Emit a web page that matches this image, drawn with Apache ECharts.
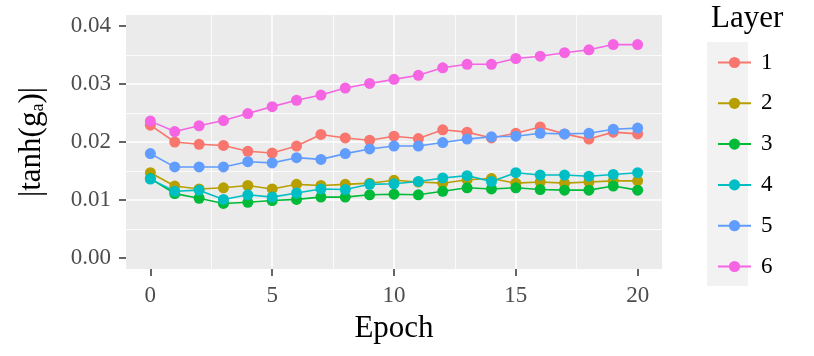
<!DOCTYPE html>
<html lang="en">
<head>
    <meta charset="UTF-8">
    <title>Layer gates</title>
    <style>
        html, body { margin: 0; padding: 0; background: #fff; }
        #main { width: 814px; height: 356px; }
    </style>
</head>
<body>
<div id="main"></div>
<script src="https://cdn.jsdelivr.net/npm/echarts@6/dist/echarts.min.js"></script>
<script>
    var epochs = [0, 1, 2, 3, 4, 5, 6, 7, 8, 9, 10, 11, 12, 13, 14, 15, 16, 17, 18, 19, 20];
    var layerNames = ['1', '2', '3', '4', '5', '6'];
    var layerColors = ['#F8766D', '#B79F00', '#00BA38', '#00BFC4', '#619CFF', '#F564E3'];

    var layer1 = [0.0229, 0.0200, 0.0196, 0.0194, 0.0184, 0.0181, 0.0193, 0.0213, 0.0207, 0.0203, 0.0210, 0.0206, 0.0221, 0.0217, 0.0207, 0.0215, 0.0226, 0.0214, 0.0205, 0.0217, 0.0214];
    var layer2 = [0.0147, 0.0124, 0.0119, 0.0121, 0.0125, 0.0119, 0.0127, 0.0125, 0.0127, 0.0129, 0.0134, 0.0131, 0.0129, 0.0135, 0.0137, 0.0129, 0.0131, 0.0129, 0.0131, 0.0133, 0.0133];
    var layer3 = [0.0137, 0.0111, 0.0103, 0.0094, 0.0096, 0.0099, 0.0101, 0.0105, 0.0105, 0.0109, 0.0110, 0.0109, 0.0115, 0.0121, 0.0119, 0.0121, 0.0118, 0.0117, 0.0117, 0.0124, 0.0117];
    var layer4 = [0.0136, 0.0115, 0.0117, 0.0101, 0.0109, 0.0105, 0.0112, 0.0119, 0.0118, 0.0127, 0.0128, 0.0132, 0.0138, 0.0142, 0.0132, 0.0147, 0.0143, 0.0143, 0.0141, 0.0144, 0.0147];
    var layer5 = [0.0180, 0.0157, 0.0157, 0.0157, 0.0166, 0.0164, 0.0173, 0.0170, 0.0180, 0.0188, 0.0193, 0.0193, 0.0199, 0.0205, 0.0209, 0.0210, 0.0215, 0.0214, 0.0215, 0.0222, 0.0224];
    var layer6 = [0.0236, 0.0218, 0.0228, 0.0237, 0.0249, 0.0261, 0.0272, 0.0281, 0.0293, 0.0301, 0.0308, 0.0315, 0.0328, 0.0334, 0.0334, 0.0344, 0.0348, 0.0354, 0.0359, 0.0368, 0.0368];
    var layers = [layer1, layer2, layer3, layer4, layer5, layer6];

    var xTicks = [0, 5, 10, 15, 20];
    var yTicks = [0, 0.01, 0.02, 0.03, 0.04];

    var serif = '"Liberation Serif", "DejaVu Serif", serif';

    var series = [];
    for (var i = 0; i < layers.length; i++) {
        series.push({
            name: layerNames[i],
            type: 'line',
            z: 2 + i,
            data: epochs.map(function (e, j) { return [e, layers[i][j]]; }),
            symbol: 'circle',
            symbolSize: 11,
            color: layerColors[i],
            lineStyle: { width: 1.6, color: layerColors[i] },
            itemStyle: { color: layerColors[i] },
            emphasis: { disabled: true }
        });
    }

    var myChart = echarts.init(document.getElementById('main'));
    var option = {
        animation: false,
        backgroundColor: '#ffffff',
        title: {
            text: 'Layer',
            left: 706,
            top: -2,
            textStyle: { fontFamily: serif, fontSize: 31, fontWeight: 'normal', color: '#000' }
        },
        graphic: [{
            type: 'rect',
            left: 707,
            top: 42,
            z: -1,
            shape: { width: 41, height: 244 },
            style: { fill: '#F2F2F2' }
        }],
        legend: {
            data: layerNames,
            orient: 'vertical',
            left: 712,
            top: 46,
            itemWidth: 33,
            itemHeight: 14,
            itemGap: 17.8,
            textStyle: { fontFamily: serif, fontSize: 23, color: '#000', padding: [0, 0, 0, 5] }
        },
        grid: {
            left: 126,
            top: 15,
            width: 536,
            height: 254,
            show: true,
            backgroundColor: '#EBEBEB',
            borderWidth: 0
        },
        xAxis: {
            type: 'value',
            min: -1,
            max: 21,
            splitNumber: 5,
            name: 'Epoch',
            nameLocation: 'middle',
            nameGap: 44,
            nameTextStyle: { fontFamily: serif, fontSize: 31, color: '#000' },
            axisLine: { show: false, onZero: false },
            splitLine: { show: true, showMinLine: false, showMaxLine: false, lineStyle: { color: '#fff', width: 1.6 } },
            minorTick: { show: false, splitNumber: 2 },
            minorSplitLine: { show: true, lineStyle: { color: '#fff', width: 0.8 } },
            axisTick: { show: true, length: 7, lineStyle: { color: '#333', width: 1.5 }, customValues: xTicks },
            axisLabel: { fontFamily: serif, fontSize: 23, color: '#4D4D4D', margin: 15, customValues: xTicks }
        },
        yAxis: {
            type: 'value',
            min: -0.0019,
            max: 0.0419,
            splitNumber: 5,
            name: '|tanh(g{s|a})|',
            nameLocation: 'middle',
            nameRotate: 90,
            nameGap: 79,
            nameTextStyle: {
                fontFamily: serif, fontSize: 31, color: '#000',
                rich: { s: { fontFamily: serif, fontSize: 18, verticalAlign: 'bottom', padding: [12, 0, 0, 0] } }
            },
            axisLine: { show: false, onZero: false },
            splitLine: { show: true, showMinLine: false, showMaxLine: false, lineStyle: { color: '#fff', width: 1.6 } },
            minorTick: { show: false, splitNumber: 2 },
            minorSplitLine: { show: true, lineStyle: { color: '#fff', width: 0.8 } },
            axisTick: { show: true, length: 7, lineStyle: { color: '#333', width: 1.5 }, customValues: yTicks },
            axisLabel: {
                fontFamily: serif, fontSize: 23, color: '#4D4D4D', margin: 15, customValues: yTicks,
                formatter: function (v) { return v.toFixed(2); }
            }
        },
        series: series
    };
    myChart.setOption(option);
</script>
</body>
</html>
